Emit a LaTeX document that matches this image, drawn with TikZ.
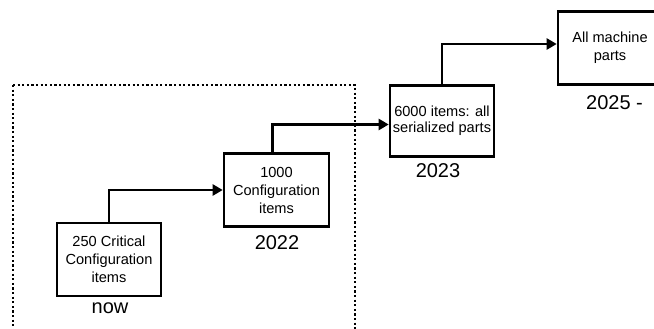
\documentclass[tikz,border=0pt]{standalone}
\usepackage{fontspec}
\setmainfont{Liberation Sans}
\usetikzlibrary{arrows.meta}
\begin{document}
\begin{tikzpicture}[x=1pt,y=-1pt,
  stage/.style={draw, line width=2.6pt, minimum width=104pt, minimum height=73pt,
    inner sep=0pt, align=center, font=\fontsize{14.6}{18}\selectfont},
  year/.style={inner sep=0pt, font=\fontsize{20}{24}\selectfont},
  flow/.style={line width=2.4pt, -{Triangle[length=10pt,width=11pt]}},
  phaseframe/.style={line width=2.3pt, dash pattern=on 2.2pt off 2.4pt}
]
\useasboundingbox (0,0) rectangle (654,329);
\clip (0,0) rectangle (654,329);

% current phase frame (runs past the lower edge)
\draw[phaseframe] (13,85) -- (355,85) -- (355,340);
\draw[phaseframe] (13,85) -- (13,340);

% stages
\node[stage] (b1) at (109,259.5) {250 Critical\\Configuration\\items};
\node[stage, minimum width=105pt] (b2) at (276.5,190) {1000\\Configuration\\items};
\node[stage, minimum height=71pt, font=\fontsize{14.6}{16}\selectfont] (b3) at (442,121) {6000 items: all\\serialized parts};
\node[stage] (b4) at (610,48) {All machine\\parts};

% years
\node[year] (y1) at (110,308) {now};
\node[year] (y2) at (277,243) {2022};
\node[year] (y3) at (438,171) {2023};
\node[year] (y4) at (614.5,103) {2025 -};

% progression
\draw[flow] (b1.north) |- (b2.west);
\draw[flow] ([xshift=-4pt]b2.north) |- ([yshift=-3.5pt]b3.west);
\draw[flow] (b3.north) |- ([yshift=4pt]b4.west);
\end{tikzpicture}
\end{document}
